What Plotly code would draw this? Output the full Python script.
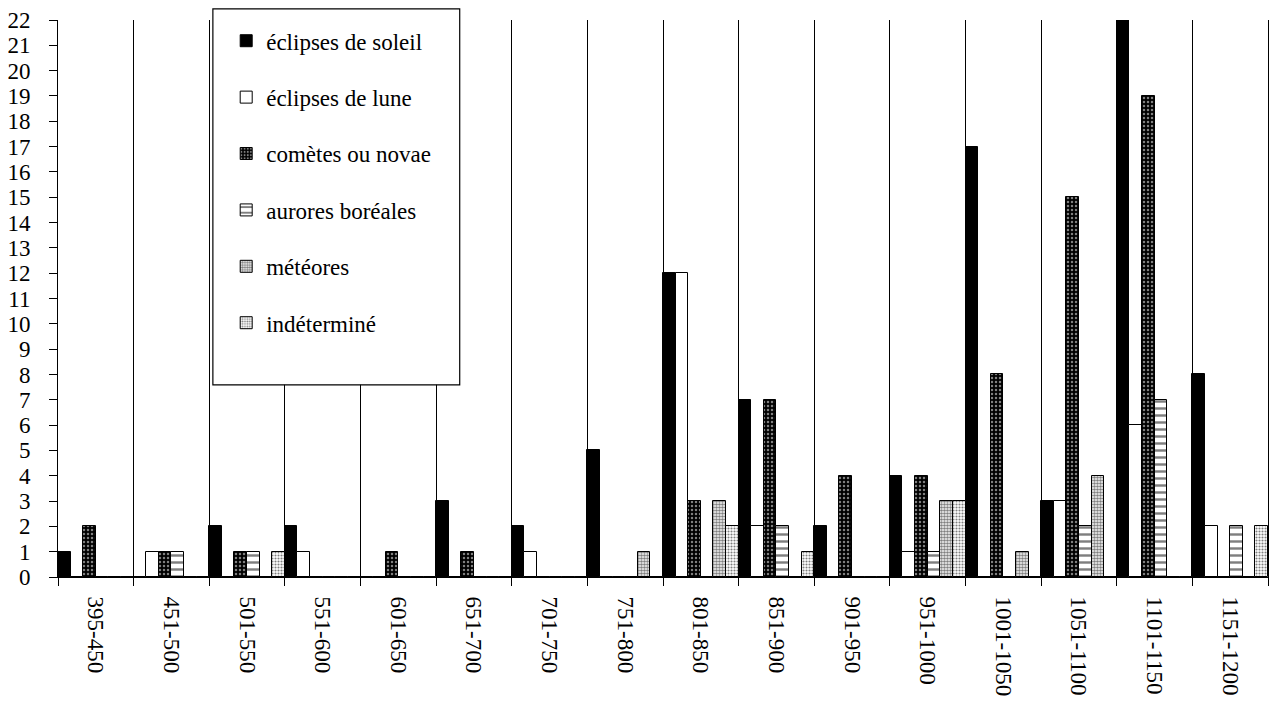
import plotly.graph_objects as go

categories = ["395-450", "451-500", "501-550", "551-600", "601-650", "651-700",
              "701-750", "751-800", "801-850", "851-900", "901-950", "951-1000",
              "1001-1050", "1051-1100", "1101-1150", "1151-1200"]
soleil   = [1, 0, 2, 2, 0, 3, 2, 5, 12, 7, 2, 4, 17, 3, 22, 8]
lune     = [0, 1, 0, 1, 0, 0, 1, 0, 12, 2, 0, 1, 0, 3, 6, 2]
cometes  = [2, 1, 1, 0, 1, 1, 0, 0, 3, 7, 4, 4, 8, 15, 19, 0]
aurores  = [0, 1, 1, 0, 0, 0, 0, 0, 0, 2, 0, 1, 0, 2, 7, 2]
meteores = [0, 0, 0, 0, 0, 0, 0, 1, 3, 0, 0, 3, 1, 4, 0, 0]
indet    = [0, 0, 1, 0, 0, 0, 0, 0, 2, 1, 0, 3, 0, 0, 0, 2]

series_names = ["éclipses de soleil", "éclipses de lune", "comètes ou novae",
                "aurores boréales", "météores", "indéterminé"]
series_values = [soleil, lune, cometes, aurores, meteores, indet]

styles = [
    dict(color="black", pattern=dict(shape="")),
    dict(color="white", pattern=dict(shape="")),
    dict(color="black", pattern=dict(shape=".", fgcolor="white", bgcolor="black",
                                     size=4, solidity=0.3, fillmode="overlay")),
    dict(color="white", pattern=dict(shape="-", fgcolor="black", bgcolor="white",
                                     size=7, solidity=0.35, fillmode="overlay")),
    dict(color="white", pattern=dict(shape=".", fgcolor="black", bgcolor="white",
                                     size=3, solidity=0.6, fillmode="overlay")),
    dict(color="white", pattern=dict(shape=".", fgcolor="black", bgcolor="white",
                                     size=3, solidity=0.4, fillmode="overlay")),
]

fig = go.Figure()
for i, (name, vals, st) in enumerate(zip(series_names, series_values, styles)):
    fig.add_trace(go.Bar(
        x=categories, y=vals, name=name, legendgroup=f"g{i}",
        marker=dict(color=st["color"], pattern=st["pattern"],
                    line=dict(color="black", width=1)),
    ))

font_family = "Liberation Serif, Times New Roman, serif"

# legend frame (white box drawn above the plot, legend entries on top of it)
fig.add_shape(type="rect", xref="paper", yref="paper",
              x0=0.128, x1=0.332, y0=0.345, y1=1.02,
              fillcolor="white", line=dict(color="black", width=1.2), layer="above")

fig.update_layout(
    width=1274, height=697,
    margin=dict(l=50, r=14, t=12, b=128, autoexpand=False),
    paper_bgcolor="white", plot_bgcolor="white",
    barmode="group", bargap=0, bargroupgap=0,
    font=dict(family=font_family, size=23, color="black"),
    legend=dict(
        x=0.139, xanchor="left", y=1.027, yanchor="top",
        bgcolor="rgba(0,0,0,0)", borderwidth=0,
        font=dict(family=font_family, size=23, color="black"),
        title=dict(text=" ", font=dict(size=11)),
        tracegroupgap=23.5, itemwidth=30,
        entrywidth=200, entrywidthmode="pixels",
        maxheight=600,
    ),
    showlegend=True,
)
fig.update_xaxes(
    type="category", tickson="boundaries", showgrid=True,
    range=[-0.5, 15.5],
    gridcolor="black", gridwidth=1, automargin=False,
    ticks="outside", ticklen=8, tickcolor="black",
    showline=True, linecolor="black", linewidth=1,
    tickangle=90, ticklabelstandoff=14,
    tickfont=dict(family=font_family, size=23),
)
fig.update_yaxes(
    range=[0, 22], dtick=1, showgrid=False, zeroline=False, automargin=False,
    ticks="outside", ticklen=8, tickcolor="black",
    showline=True, linecolor="black", linewidth=1, mirror=True,
    ticklabelstandoff=14,
    tickfont=dict(family=font_family, size=23),
)

fig.write_html("out.html")
